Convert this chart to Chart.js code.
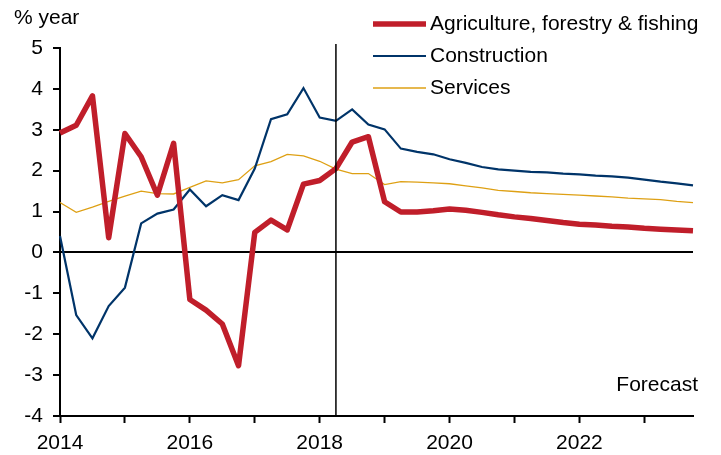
<!DOCTYPE html>
<html>
<head>
<meta charset="utf-8">
<script src="https://cdn.jsdelivr.net/npm/chart.js@4/dist/chart.umd.min.js"></script>
<style>
  html, body { margin: 0; padding: 0; background: #fff; }
  #wrap { width: 721px; height: 455px; position: relative; }
</style>
</head>
<body>
<div id="wrap"><canvas id="sectorChart"></canvas></div>
<script>
const quarters = [
    '2014 Q1', '2014 Q2', '2014 Q3', '2014 Q4',
    '2015 Q1', '2015 Q2', '2015 Q3', '2015 Q4',
    '2016 Q1', '2016 Q2', '2016 Q3', '2016 Q4',
    '2017 Q1', '2017 Q2', '2017 Q3', '2017 Q4',
    '2018 Q1', '2018 Q2', '2018 Q3', '2018 Q4',
    '2019 Q1', '2019 Q2', '2019 Q3', '2019 Q4',
    '2020 Q1', '2020 Q2', '2020 Q3', '2020 Q4',
    '2021 Q1', '2021 Q2', '2021 Q3', '2021 Q4',
    '2022 Q1', '2022 Q2', '2022 Q3', '2022 Q4',
    '2023 Q1', '2023 Q2', '2023 Q3', '2023 Q4'
];
const agriculture = [2.92, 3.11, 3.83, 0.36, 2.91, 2.34, 1.40, 2.67, -1.15, -1.41, -1.75, -2.77,
    0.49, 0.79, 0.55, 1.67, 1.76, 2.05, 2.70, 2.83, 1.24, 0.99, 0.99, 1.02,
    1.06, 1.03, 0.98, 0.92, 0.87, 0.83, 0.78, 0.73, 0.69, 0.67, 0.64, 0.62,
    0.59, 0.57, 0.55, 0.53];
const construction = [0.40, -1.53, -2.10, -1.31, -0.86, 0.71, 0.95, 1.05, 1.54, 1.13, 1.40, 1.28,
    2.05, 3.26, 3.38, 4.02, 3.30, 3.22, 3.50, 3.13, 3.01, 2.54, 2.46, 2.40,
    2.28, 2.19, 2.09, 2.03, 2.00, 1.97, 1.96, 1.93, 1.91, 1.88, 1.86, 1.83,
    1.78, 1.73, 1.69, 1.64];
const services = [1.22, 0.98, 1.11, 1.25, 1.38, 1.50, 1.44, 1.43, 1.59, 1.75, 1.70, 1.78,
    2.12, 2.22, 2.40, 2.36, 2.23, 2.04, 1.93, 1.93, 1.66, 1.73, 1.72, 1.70,
    1.68, 1.63, 1.58, 1.52, 1.49, 1.46, 1.44, 1.42, 1.40, 1.38, 1.36, 1.33,
    1.31, 1.29, 1.25, 1.22];
const seriesNames = ['Agriculture, forestry & fishing', 'Construction', 'Services'];
const yearLabels = ['2014', '2016', '2018', '2020', '2022'];
const forecastStart = '2018 Q2';

const FONT = 'Liberation Sans, Arial, sans-serif';

// legend, unit label, forecast marker
const annotations = {
    id: 'annotations',
    afterDatasetsDraw(chart) {
        const ctx = chart.ctx;
        const area = chart.chartArea;
        const x = chart.scales.x.getPixelForValue(quarters.indexOf(forecastStart));
        ctx.save();
        ctx.strokeStyle = '#000';
        ctx.lineWidth = 1.5;
        ctx.beginPath();
        ctx.moveTo(x, area.top - 4);
        ctx.lineTo(x, area.bottom);
        ctx.stroke();

        ctx.fillStyle = '#000';
        ctx.font = '21px ' + FONT;
        ctx.textBaseline = 'middle';
        ctx.textAlign = 'left';
        ctx.fillText('% year', 14, 18);

        ctx.textAlign = 'right';
        ctx.fillText('Forecast', 698, 385);

        ctx.textAlign = 'left';
        chart.data.datasets.forEach((ds, i) => {
            const y = 24 + i * 32;
            ctx.strokeStyle = ds.borderColor;
            ctx.lineWidth = ds.borderWidth;
            ctx.beginPath();
            ctx.moveTo(373, y);
            ctx.lineTo(426, y);
            ctx.stroke();
            ctx.fillText(ds.label, 430, y);
        });
        ctx.restore();
    }
};

document.addEventListener('DOMContentLoaded', function () {
    const ctx = document.getElementById('sectorChart').getContext('2d');
    new Chart(ctx, {
        type: 'line',
        data: {
            labels: quarters,
            datasets: [{
                label: seriesNames[0],
                data: agriculture,
                borderColor: 'rgb(192, 30, 42)',
                borderWidth: 5.5,
                pointRadius: 0,
                tension: 0,
                borderJoinStyle: 'round'
            }, {
                label: seriesNames[1],
                data: construction,
                borderColor: 'rgb(0, 52, 105)',
                borderWidth: 2.2,
                pointRadius: 0,
                tension: 0
            }, {
                label: seriesNames[2],
                data: services,
                borderColor: 'rgb(222, 160, 20)',
                borderWidth: 1.3,
                pointRadius: 0,
                tension: 0
            }]
        },
        options: {
            responsive: true,
            maintainAspectRatio: false,
            animation: false,
            layout: { padding: { left: 0, right: 28, top: 48, bottom: 0 } },
            plugins: {
                legend: { display: false },
                tooltip: { enabled: false }
            },
            scales: {
                x: {
                    offset: false,
                    border: { color: '#000', width: 2 },
                    grid: {
                        drawOnChartArea: false,
                        tickLength: 7,
                        tickWidth: 2,
                        tickColor: c => (c.index % 4 === 0 ? '#000' : 'rgba(0,0,0,0)')
                    },
                    ticks: {
                        autoSkip: false,
                        maxRotation: 0,
                        padding: 8,
                        color: '#000',
                        font: { family: FONT, size: 21 },
                        callback: function (value, index) {
                            const year = quarters[index].slice(0, 4);
                            return index % 4 === 0 && yearLabels.includes(year) ? year : '';
                        }
                    },
                    afterFit: s => { s.height = 39; }
                },
                y: {
                    min: -4,
                    max: 5,
                    border: { color: '#000', width: 2 },
                    grid: {
                        color: c => (c.tick && c.tick.value === 0 ? '#000' : 'rgba(0,0,0,0)'),
                        lineWidth: 2,
                        tickLength: 7,
                        tickColor: '#000'
                    },
                    ticks: {
                        stepSize: 1,
                        padding: 10,
                        color: '#000',
                        font: { family: FONT, size: 21 }
                    },
                    afterFit: s => { s.width = 60; }
                }
            }
        },
        plugins: [annotations]
    });
});
</script>
</body>
</html>
